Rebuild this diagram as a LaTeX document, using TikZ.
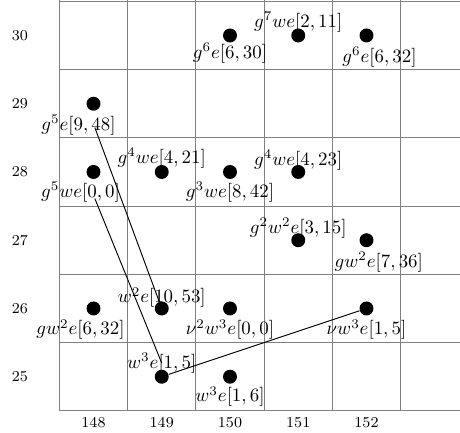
\documentclass[tikz,border=0pt]{standalone}
\usetikzlibrary{positioning}

\begin{document}
\begin{tikzpicture}[
    x=0.5in, y=0.5in,
    gridline/.style={gray, line width=0.5pt},
    classdot/.style={circle, fill, inner sep=0pt, minimum size=7.4pt},
    lbl/.style={inner sep=2pt},
    axis/.style={font=\footnotesize},
    link/.style={line width=0.5pt},
]
    \useasboundingbox (-1.37,-0.81) rectangle (5.37,5.52);

    % grid
    \foreach \i in {-0.5,0.5,...,4.5}
        \draw[gridline] (\i,-0.5) -- (\i,5.52);
    \foreach \j in {-0.5,0.5,...,5.5}
        \draw[gridline] (-0.5,\j) -- (5.37,\j);

    % axis labels
    \foreach \n [count=\i from 0] in {148,...,152}
        \node[axis, anchor=north] (s\n) at (\i,-0.5) {\n};
    \foreach \n [count=\j from 0] in {25,...,30}
        \node[axis] (t\n) at (-1.08,\j) {\n};

    % classes
    \node[classdot] (d1) at (2,5) {};
    \node[classdot] (d2) at (3,5) {};
    \node[classdot] (d3) at (4,5) {};
    \node[classdot] (d4) at (0,4) {};
    \node[classdot] (d5) at (1,3) {};
    \node[classdot] (d6) at (0,3) {};
    \node[classdot] (d7) at (2,3) {};
    \node[classdot] (d8) at (3,3) {};
    \node[classdot] (d9) at (3,2) {};
    \node[classdot] (d10) at (4,2) {};
    \node[classdot] (d11) at (1,1) {};
    \node[classdot] (d12) at (0,1) {};
    \node[classdot] (d13) at (2,1) {};
    \node[classdot] (d14) at (4,1) {};
    \node[classdot] (d15) at (1,0) {};
    \node[classdot] (d16) at (2,0) {};

    \node[lbl] (l1) at (2,4.74) {$g^6e[6,30]$};
    \node[lbl] (l2) at (3,5.19) {$g^7we[2,11]$};
    \node[lbl] (l3) at (4.19,4.68) {$g^6e[6,32]$};
    \node[lbl] (l4) at (-0.22,3.69) {$g^5e[9,48]$};
    \node[lbl] (l5) at (1,3.2) {$g^4we[4,21]$};
    \node[lbl] (l6) at (-0.19,2.71) {$g^5we[0,0]$};
    \node[lbl] (l7) at (2,2.71) {$g^3we[8,42]$};
    \node[lbl] (l8) at (3,3.18) {$g^4we[4,23]$};
    \node[lbl] (l9) at (3,2.18) {$g^2w^2e[3,15]$};
    \node[lbl] (l10) at (4.18,1.68) {$gw^2e[7,36]$};
    \node[lbl] (l11) at (1,1.16) {$w^2e[10,53]$};
    \node[lbl] (l12) at (-0.19,0.69) {$gw^2e[6,32]$};
    \node[lbl] (l13) at (2,0.69) {$\nu^2w^3e[0,0]$};
    \node[lbl] (l14) at (4,0.69) {$\nu w^3e[1,5]$};
    \node[lbl] (l15) at (1,0.2) {$w^3e[1,5]$};
    \node[lbl] (l16) at (2,-0.29) {$w^3e[1,6]$};

    % differentials
    \coordinate (c4) at (0.02,3.65);
    \coordinate (c6) at (0.02,2.61);
    \draw[link] (c4) -- (d11);
    \draw[link] (c6) -- (l15.center);
    \draw[link] (d15) -- (d14);

\end{tikzpicture}
\end{document}
